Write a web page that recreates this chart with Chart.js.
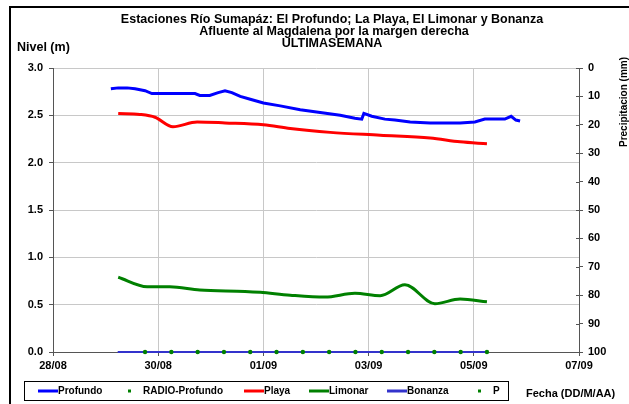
<!DOCTYPE html>
<html lang="es">
<head>
  <meta charset="UTF-8" />
  <title>Estaciones Río Sumapáz</title>
  <script src="https://cdn.jsdelivr.net/npm/chart.js"></script>
  <style>
    * { box-sizing: border-box; }
    body { margin: 0; padding: 0; background: #fff; overflow: hidden; }
    #wrap { position: relative; width: 629px; height: 404px; }
  </style>
</head>
<body>
  <div id="wrap"><canvas id="chart" width="629" height="404"></canvas></div>

<script>
  // days counted from 28/08 (0) to 07/09 (10)
  const fechaLabels = ['28/08', '30/08', '01/09', '03/09', '05/09', '07/09'];

  const profundoDia   = [1.10, 1.24, 1.41, 1.56, 1.75, 1.88, 2.03, 2.51, 2.70, 2.79, 2.98, 3.14, 3.27, 3.40, 3.56, 3.75, 4.00, 4.32, 4.70, 5.08, 5.46, 5.74, 5.87, 5.91, 6.06, 6.31, 6.50, 6.79, 7.17, 7.74, 8.02, 8.21, 8.59, 8.71, 8.80, 8.88];
  const profundoNivel = [2.78, 2.79, 2.79, 2.78, 2.76, 2.73, 2.73, 2.73, 2.73, 2.71, 2.71, 2.74, 2.76, 2.74, 2.70, 2.67, 2.63, 2.60, 2.56, 2.53, 2.50, 2.47, 2.46, 2.52, 2.49, 2.46, 2.45, 2.43, 2.42, 2.42, 2.43, 2.46, 2.46, 2.49, 2.45, 2.44];

  const playaDia   = [1.24, 1.65, 1.94, 2.28, 2.74, 3.27, 4.00, 4.51, 5.27, 6.22, 7.17, 7.74, 8.25];
  const playaNivel = [2.52, 2.51, 2.48, 2.38, 2.43, 2.42, 2.40, 2.36, 2.32, 2.29, 2.26, 2.22, 2.20];

  const limonarDia   = [1.24, 1.79, 2.22, 2.79, 3.65, 3.94, 4.51, 5.17, 5.74, 6.22, 6.69, 7.26, 7.74, 8.25];
  const limonarNivel = [0.79, 0.69, 0.69, 0.655, 0.64, 0.63, 0.60, 0.58, 0.62, 0.595, 0.71, 0.51, 0.56, 0.53];

  const bonanzaDia   = [1.23, 8.25];
  const bonanzaNivel = [0, 0];

  const radioDia   = [1.75, 2.25, 2.75, 3.25, 3.75, 4.25, 4.75, 5.25, 5.75, 6.25, 6.75, 7.25, 7.75, 8.25];
  const radioNivel = [0, 0, 0, 0, 0, 0, 0, 0, 0, 0, 0, 0, 0, 0];

  const pDia = [];
  const pValor = [];

  const titulo = [
    'Estaciones Río Sumapáz: El Profundo; La Playa, El Limonar y Bonanza',
    'Afluente al Magdalena por la margen derecha',
    'ULTIMASEMANA'
  ];

  const FONT = "'Liberation Sans', Arial, sans-serif";
  const pts = (xs, ys) => xs.map((x, i) => ({ x, y: ys[i] }));

  const legendItems = [
    { label: 'Profundo', kind: 'line', color: '#0000FF', x: 38 },
    { label: 'RADIO-Profundo', kind: 'dot', color: '#008000', x: 125 },
    { label: 'Playa', kind: 'line', color: '#FF0000', x: 244 },
    { label: 'Limonar', kind: 'line', color: '#008000', x: 309 },
    { label: 'Bonanza', kind: 'line', color: '#3333CC', x: 387 },
    { label: 'P', kind: 'dot', color: '#008000', x: 475 }
  ];

  // title, frame, axis names, legend box
  const decor = {
    id: 'decor',
    afterDraw(chart) {
      const ctx = chart.ctx;
      ctx.save();
      // outer frame
      ctx.strokeStyle = '#000';
      ctx.lineWidth = 2;
      ctx.beginPath();
      ctx.moveTo(10, 420); ctx.lineTo(10, 7); ctx.lineTo(640, 7);
      ctx.stroke();

      ctx.fillStyle = '#000';
      ctx.textAlign = 'center';
      ctx.textBaseline = 'alphabetic';
      ctx.font = 'bold 12.5px ' + FONT;
      ctx.fillText(titulo[0], 332, 23);
      ctx.fillText(titulo[1], 334, 35);
      ctx.fillText(titulo[2], 332, 47);

      ctx.textAlign = 'left';
      ctx.fillText('Nivel (m)', 17, 51);

      ctx.font = 'bold 11px ' + FONT;
      ctx.textBaseline = 'middle';
      ctx.fillText('Fecha (DD/M/AA)', 526, 394);

      ctx.save();
      ctx.translate(624, 102);
      ctx.rotate(-Math.PI / 2);
      ctx.textAlign = 'center';
      ctx.font = 'bold 10px ' + FONT;
      ctx.fillText('Precipitacion (mm)', 0, 0);
      ctx.restore();

      // inner half of right axis ticks
      const y2 = chart.scales.y2;
      ctx.strokeStyle = '#555';
      ctx.lineWidth = 1;
      y2.ticks.forEach(t => {
        const py = Math.round(y2.getPixelForValue(t.value)) + 0.5;
        ctx.beginPath();
        ctx.moveTo(y2.left - 3, py); ctx.lineTo(y2.left, py);
        ctx.stroke();
      });

      // legend
      ctx.strokeStyle = '#000';
      ctx.lineWidth = 1;
      ctx.strokeRect(24.5, 381.5, 484, 19);
      ctx.font = 'bold 10px ' + FONT;
      ctx.textAlign = 'left';
      ctx.textBaseline = 'middle';
      const ly = 391;
      legendItems.forEach(it => {
        if (it.kind === 'line') {
          ctx.strokeStyle = it.color;
          ctx.lineWidth = 3;
          ctx.beginPath();
          ctx.moveTo(it.x, ly); ctx.lineTo(it.x + 20, ly);
          ctx.stroke();
          ctx.fillStyle = '#000';
          ctx.fillText(it.label, it.x + 20, ly);
        } else {
          ctx.fillStyle = it.color;
          ctx.fillRect(it.x + 3, ly - 1.5, 3, 3);
          ctx.fillStyle = '#000';
          ctx.fillText(it.label, it.x + 18, ly);
        }
      });
      ctx.restore();
    }
  };

  const ctx = document.getElementById('chart').getContext('2d');
  new Chart(ctx, {
    type: 'line',
    data: {
      datasets: [
        { label: 'RADIO-Profundo', data: pts(radioDia, radioNivel), showLine: false, pointRadius: 2.2, pointBackgroundColor: '#008000', pointBorderWidth: 0, yAxisID: 'y', clip: false, order: 0 },
        { label: 'Bonanza', data: pts(bonanzaDia, bonanzaNivel), borderColor: '#3333CC', borderWidth: 2, pointRadius: 0, yAxisID: 'y', clip: false, order: 1 },
        { label: 'Profundo', data: pts(profundoDia, profundoNivel), borderColor: '#0000FF', borderWidth: 3, pointRadius: 0, tension: 0, yAxisID: 'y', order: 2 },
        { label: 'Playa', data: pts(playaDia, playaNivel), borderColor: '#FF0000', borderWidth: 3, pointRadius: 0, tension: 0.4, cubicInterpolationMode: 'monotone', yAxisID: 'y', order: 3 },
        { label: 'Limonar', data: pts(limonarDia, limonarNivel), borderColor: '#008000', borderWidth: 3, pointRadius: 0, tension: 0.4, cubicInterpolationMode: 'monotone', yAxisID: 'y', order: 4 },
        { label: 'P', data: pts(pDia, pValor), showLine: false, pointRadius: 2.2, pointBackgroundColor: '#008000', yAxisID: 'y2' }
      ]
    },
    options: {
      responsive: false,
      animation: false,
      layout: { padding: { top: 68, left: 0, right: 0, bottom: 0 } },
      plugins: { legend: { display: false }, tooltip: { enabled: false }, title: { display: false } },
      scales: {
        x: {
          type: 'linear', min: 0, max: 10,
          afterFit: s => { s.height = 52; },
          afterBuildTicks: s => { s.ticks = [0, 2, 4, 6, 8, 10].map(v => ({ value: v })); },
          ticks: {
            color: '#000', padding: 3, maxRotation: 0, autoSkip: false,
            font: { family: FONT, size: 11, weight: 'bold' },
            callback: v => fechaLabels[Math.round(v / 2)]
          },
          grid: { color: '#c8c8c8', tickColor: '#555', tickLength: 4, lineWidth: 1 },
          border: { color: '#555', width: 1 }
        },
        y: {
          position: 'left', min: 0, max: 3,
          afterFit: s => { s.width = 53; },
          ticks: {
            stepSize: 0.5, color: '#000', padding: 6,
            font: { family: FONT, size: 11, weight: 'bold' },
            callback: v => v.toFixed(1)
          },
          grid: { color: '#c8c8c8', tickColor: '#555', tickLength: 4 },
          border: { color: '#555', width: 1 }
        },
        y2: {
          position: 'right', min: 0, max: 100, reverse: true,
          afterFit: s => { s.width = 50; },
          ticks: {
            stepSize: 10, color: '#000', padding: 5,
            font: { family: FONT, size: 11, weight: 'bold' }
          },
          grid: { drawOnChartArea: false, tickColor: '#555', tickLength: 4 },
          border: { color: '#555', width: 1 }
        }
      }
    },
    plugins: [decor]
  });
</script>
</body>
</html>
